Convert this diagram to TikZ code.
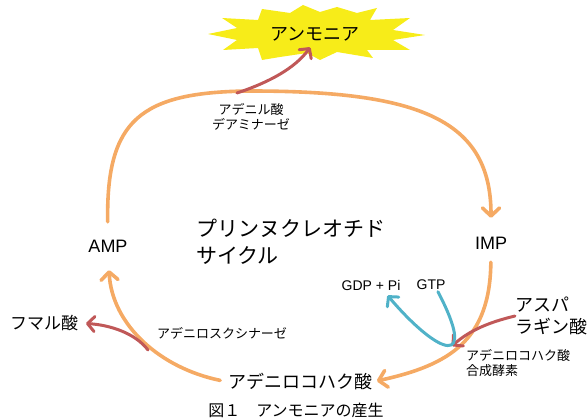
\documentclass[tikz,border=0pt]{standalone}
\usepackage{fontspec}
\setmainfont{Noto Sans CJK JP}
\newfontfamily\latf{Liberation Sans}
\usetikzlibrary{arrows.meta}
\definecolor{cycor}{RGB}{245,170,100}
\definecolor{redc}{RGB}{192,88,88}
\definecolor{bluec}{RGB}{80,178,200}
\definecolor{burstc}{RGB}{247,236,25}
\newcommand\fsz[2]{\fontsize{#1}{#2}\selectfont}
\begin{document}
\begin{tikzpicture}[x=1pt,y=-1pt,
  every node/.style={inner sep=0pt, outer sep=0pt, text=black},
  cycarr/.style={draw=cycor, line width=3.6pt, line cap=round, -{Straight Barb[length=8pt,width=17pt,round]}},
  redarr/.style={draw=redc, line width=3pt, line cap=round, -{Straight Barb[length=7pt,width=15pt,round]}},
  bluearr/.style={draw=bluec, line width=3pt, line cap=round, -{Straight Barb[length=7pt,width=15pt,round]}},
  burst/.style={fill=burstc}
]
\useasboundingbox (0,0) rectangle (587,419);

% burst
\fill[burst] (208,34) -- (237,28) -- (222,18) -- (258,20) -- (262,9) -- (290,13) -- (303,5) -- (320,12) -- (337,7) -- (357,13) -- (377,8) -- (370,20) -- (410,18) -- (393,30) -- (425,35) -- (393,40) -- (410,50) -- (367,50) -- (373,58) -- (337,52) -- (320,60) -- (307,53) -- (280,57) -- (262,60) -- (258,48) -- (223,50) -- (237,40) -- cycle;

% nodes
\node[font={\fsz{18}{20}}] (nh3) at (315,34) {アンモニア};
\node[font={\fsz{13}{14.5}}, align=center] (deamlbl) at (251,117) {アデニル酸\\デアミナーゼ};
\node[font={\latf\fsz{18}{20}}] (AMP) at (108,246) {AMP};
\node[font={\latf\fsz{18}{20}}] (IMP) at (491,243) {IMP};
\node[font={\fsz{21}{27}}, align=left, anchor=west] (cyclbl) at (196,242) {プリンヌクレオチド\\サイクル};
\node[font={\latf\fsz{14}{15}}] (GDP) at (371,285) {GDP + Pi};
\node[font={\latf\fsz{14}{15}}] (GTP) at (431,285) {GTP};
\node[font={\fsz{18}{22}}, align=left, anchor=west] (asp) at (515,316) {アスパ\\ラギン酸};
\node[font={\fsz{13}{14.5}}, align=left, anchor=west] (adss) at (466,363) {アデニロコハク酸\\合成酵素};
\node[font={\fsz{13}{15}}] (adsl) at (222,333) {アデニロスクシナーゼ};
\node[font={\fsz{17}{19}}] (fum) at (44,323) {フマル酸};
\node[font={\fsz{18}{20}}] (ADS) at (300,382) {アデニロコハク酸};
\node[font={\fsz{16}{18}}] (caption) at (296,410) {図１　アンモニアの産生};

\coordinate (deam) at (237,93);
\coordinate (succ) at (148,350);
\coordinate (join) at (452,346);

% cycle arcs
\draw[cycarr, shorten <=18pt, shorten >=19pt] (AMP.north) .. controls (106,120) and (140,92) .. (250,91) .. controls (420,91) and (491,120) .. (IMP.north);
\draw[cycarr, shorten <=13pt, shorten >=5pt] (IMP.south) .. controls (490,340) and (450,365) .. (ADS.east);
\draw[cycarr, shorten <=8pt, shorten >=18pt] (ADS.west) .. controls (160,368) and (112,325) .. (AMP.south);

% side reactions
\draw[redarr, shorten >=8pt] (deam) .. controls (270,82) and (295,68) .. (nh3.south);
\draw[redarr, shorten >=8pt] (succ) .. controls (135,333) and (110,325) .. (fum.east);
\draw[redarr] (asp.west) .. controls (490,322) and (470,330) .. (join);
\draw[bluearr, shorten <=2pt, shorten >=7pt] ([xshift=6pt]GTP.south) .. controls (478,368) and (440,357) .. ([xshift=12pt]GDP.south);
\end{tikzpicture}
\end{document}
